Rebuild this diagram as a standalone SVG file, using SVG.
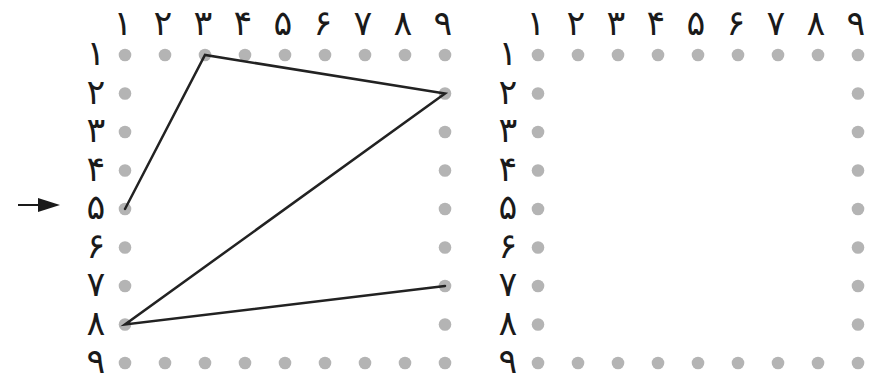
<svg xmlns="http://www.w3.org/2000/svg" width="889" height="384" viewBox="0 0 889 384">
<style>
.d{fill:#b4b4b4}
.t{font-family:"DejaVu Sans",sans-serif;font-size:35px;fill:#1a1a1a;text-anchor:middle}
.c{stroke:#222;stroke-width:2.5;fill:none;stroke-linecap:round}
</style>
<defs>
<g id="rowdots">
<circle class="d" cx="0" cy="0" r="6.3"/><circle class="d" cx="40" cy="0" r="6.3"/><circle class="d" cx="80" cy="0" r="6.3"/><circle class="d" cx="120" cy="0" r="6.3"/><circle class="d" cx="160" cy="0" r="6.3"/><circle class="d" cx="200" cy="0" r="6.3"/><circle class="d" cx="240" cy="0" r="6.3"/><circle class="d" cx="280" cy="0" r="6.3"/><circle class="d" cx="320" cy="0" r="6.3"/>
</g>
<g id="coldots">
<circle class="d" cx="0" cy="93.5" r="6.3"/><circle class="d" cx="0" cy="132" r="6.3"/><circle class="d" cx="0" cy="170.5" r="6.3"/><circle class="d" cx="0" cy="209" r="6.3"/><circle class="d" cx="0" cy="247.5" r="6.3"/><circle class="d" cx="0" cy="286" r="6.3"/><circle class="d" cx="0" cy="324.5" r="6.3"/>
</g>
<g id="toplabels" class="t">
<text x="0" y="35">۱</text><text x="40" y="35">۲</text><text x="80" y="35">۳</text><text x="120" y="35">۴</text><text x="160" y="35">۵</text><text x="200" y="35">۶</text><text x="240" y="35">۷</text><text x="280" y="35">۸</text><text x="320" y="35">۹</text>
</g>
<g id="leftlabels" class="t">
<text x="0" y="65">۱</text><text x="0" y="103.5">۲</text><text x="0" y="142">۳</text><text x="0" y="180.5">۴</text><text x="0" y="219">۵</text><text x="0" y="257.5">۶</text><text x="0" y="296">۷</text><text x="0" y="334.5">۸</text><text x="0" y="373">۹</text>
</g>
</defs>
<g id="grid-left">
<use href="#toplabels" x="123" y="0"/>
<use href="#leftlabels" x="96" y="0"/>
<use href="#rowdots" x="125" y="55"/>
<use href="#rowdots" x="125" y="363"/>
<use href="#coldots" x="125" y="0"/>
<use href="#coldots" x="445" y="0"/>
</g>
<g id="grid-right">
<use href="#toplabels" x="536" y="0"/>
<use href="#leftlabels" x="508" y="0"/>
<use href="#rowdots" x="538" y="55"/>
<use href="#rowdots" x="538" y="363"/>
<use href="#coldots" x="538" y="0"/>
<use href="#coldots" x="858" y="0"/>
</g>
<g id="connectors">
<path class="c" d="M125,209 L205,55 L445,93.5 L125,324.5 L445,286"/>
<line x1="18" y1="205" x2="45" y2="205" stroke="#1a1a1a" stroke-width="2"/>
<path d="M38,198 L60,205 L38,212 Z" fill="#1a1a1a"/>
</g>
</svg>
